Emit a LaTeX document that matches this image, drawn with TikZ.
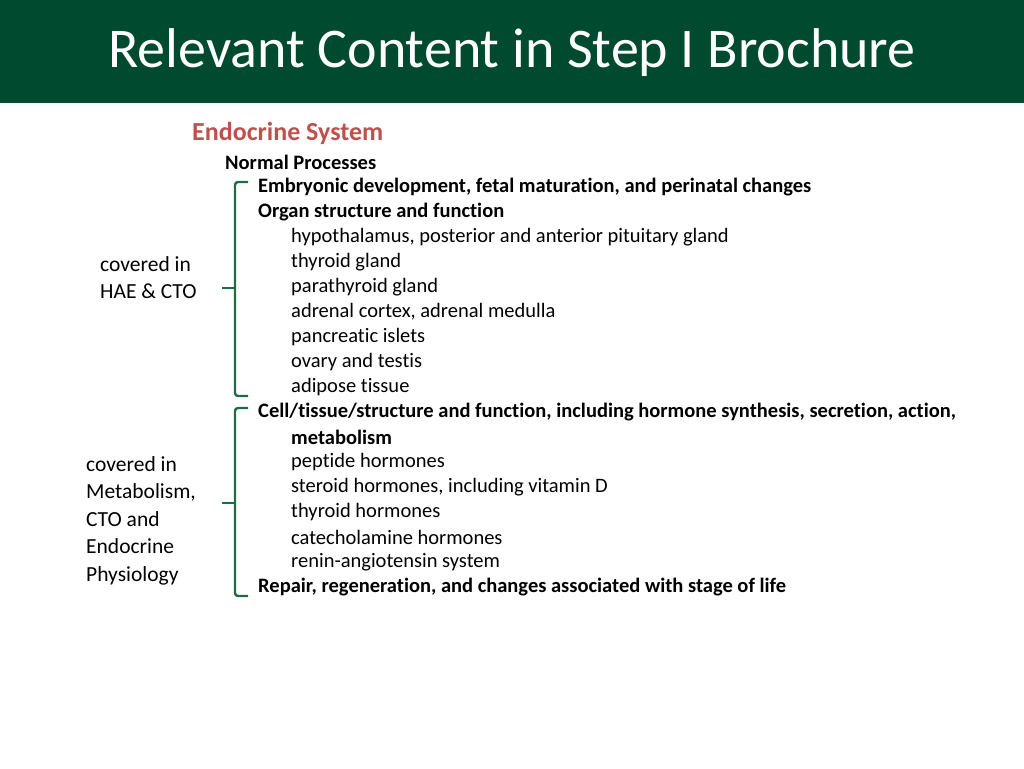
\documentclass[tikz,border=0pt]{standalone}
\usepackage{fontspec}
\setmainfont{Carlito}[RawFeature={-liga;-clig;-dlig}]
\definecolor{band}{HTML}{004B2F}
\definecolor{brk}{HTML}{1E6B45}
\definecolor{hred}{HTML}{C0504D}
\begin{document}
\begin{tikzpicture}[x=1pt,y=-1pt,
  t/.style={anchor=west,inner sep=0pt,font=\fontsize{20.5}{21}\selectfont},
  b/.style={t,font=\fontsize{20.5}{21}\selectfont\bfseries},
  lab/.style={anchor=north west,inner sep=0pt,align=left,font=\fontsize{21.5}{27.5}\selectfont},
  brace/.style={draw=brk,line width=2.4pt}]
\useasboundingbox (0,0) rectangle (1024,768);
\fill[band] (0,0) rectangle (1024,103);
\node[anchor=center,text=white,font=\fontsize{56}{58}\selectfont] (title) at (512,53) {Relevant Content in Step I Brochure};
\node[b,text=hred,font=\fontsize{26}{27}\selectfont\bfseries] (es) at (192,133) {Endocrine System};
\node[b] (np) at (225,162) {Normal Processes};
\node[b] (l1) at (258,187) {Embryonic development, fetal maturation, and perinatal changes};
\node[b] (l2) at (258,212) {Organ structure and function};
\node[t] (l3) at (291,237) {hypothalamus, posterior and anterior pituitary gland};
\node[t] (l4) at (291,262) {thyroid gland};
\node[t] (l5) at (291,287) {parathyroid gland};
\node[t] (l6) at (291,312) {adrenal cortex, adrenal medulla};
\node[t] (l7) at (291,337) {pancreatic islets};
\node[t] (l8) at (291,362) {ovary and testis};
\node[t] (l9) at (291,387) {adipose tissue};
\node[b] (l10) at (258,412) {Cell/tissue/structure and function, including hormone synthesis, secretion, action,};
\node[b] (l11) at (291,437) {metabolism};
\node[t] (l12) at (291,462) {peptide hormones};
\node[t] (l13) at (291,487) {steroid hormones, including vitamin D};
\node[t] (l14) at (291,512) {thyroid hormones};
\node[t] (l15) at (291,537) {catecholamine hormones};
\node[t] (l16) at (291,562) {renin-angiotensin system};
\node[b] (l17) at (258,587) {Repair, regeneration, and changes associated with stage of life};
\node[lab] (c1) at (100,256) {covered in\\HAE \& CTO};
\node[lab] (c2) at (86,456) {covered in\\Metabolism,\\CTO and\\Endocrine\\Physiology};
\draw[brace,rounded corners=3pt] (248,182) -- (235,182) -- (235,396) -- (248,396);
\draw[brace] (222,288) -- (235,288);
\draw[brace,rounded corners=3pt] (248,408) -- (235,408) -- (235,596) -- (248,596);
\draw[brace] (222,503) -- (235,503);
\end{tikzpicture}
\end{document}
